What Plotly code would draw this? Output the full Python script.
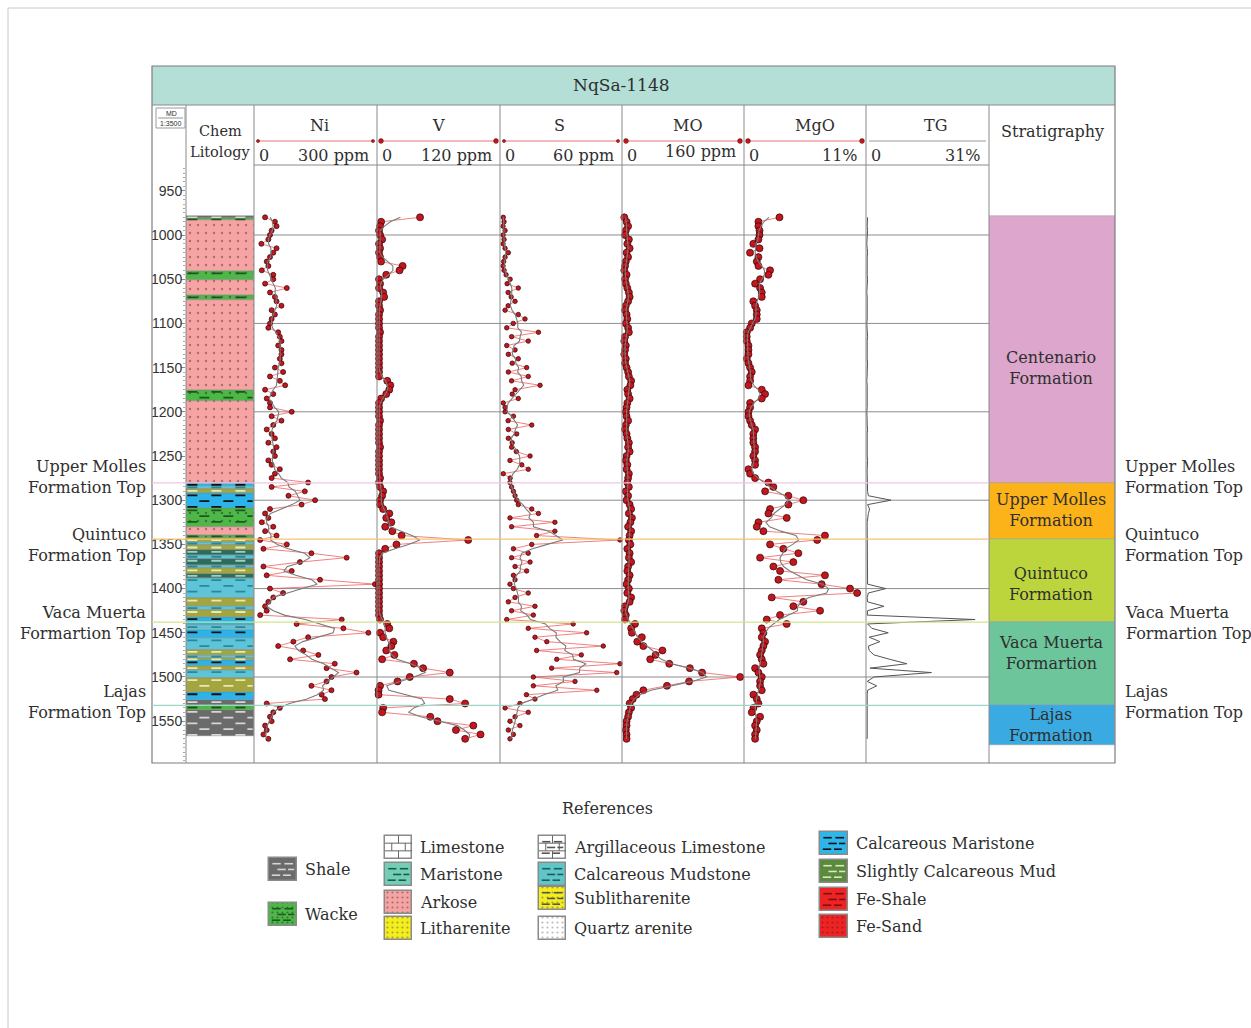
import numpy as np
import plotly.graph_objects as go

W, H = 1251, 1028
SERIF = "DejaVu Serif"
TXT = "#2f2f2f"

# ---------------- geochemical log samples (measured depth, m) ----------------
DEPTH = [980, 985, 990, 995, 1000, 1005, 1010, 1015, 1020, 1025,
         1030, 1035, 1040, 1045, 1050, 1055, 1060, 1065, 1070, 1075,
         1080, 1085, 1090, 1095, 1100, 1105, 1110, 1115, 1120, 1125,
         1130, 1135, 1140, 1145, 1150, 1155, 1160, 1165, 1170, 1175,
         1180, 1185, 1190, 1195, 1200, 1205, 1210, 1215, 1220, 1225,
         1230, 1235, 1240, 1245, 1250, 1255, 1260, 1265, 1270, 1275,
         1280, 1285, 1290, 1295, 1300, 1305, 1310, 1315, 1320, 1325,
         1330, 1335, 1340, 1345, 1350, 1355, 1360, 1365, 1370, 1375,
         1380, 1385, 1390, 1395, 1400, 1405, 1410, 1415, 1420, 1425,
         1430, 1435, 1440, 1445, 1450, 1455, 1460, 1465, 1470, 1475,
         1480, 1485, 1490, 1495, 1500, 1505, 1510, 1515, 1520, 1525,
         1530, 1535, 1540, 1545, 1550, 1555, 1560, 1565, 1570]

NI = [27, 51, 55, 43, 39, 35, 18, 55, 47, 39,
      31, 35, 19, 47, 47, 27, 80, 39, 51, 55,
      67, 43, 51, 43, 39, 35, 59, 63, 67, 59,
      67, 67, 63, 67, 51, 71, 39, 63, 76, 27,
      47, 31, 39, 39, 92, 43, 67, 47, 31, 43,
      51, 35, 55, 47, 51, 35, 43, 63, 51, 43,
      132, 43, 124, 84, 149, 116, 39, 27, 35, 19,
      47, 27, 55, 15, 80, 23, 140, 226, 112, 23,
      92, 31, 161, 295, 39, 71, 47, 35, 27, 31,
      15, 214, 104, 218, 279, 132, 96, 59, 120, 157,
      88, 197, 177, 250, 189, 177, 140, 189, 165, 173,
      31, 63, 47, 39, 43, 27, 31, 23, 35]

V = [42, 4, 3, 2, 3, 5, 2, 3, 2, 3,
     4, 25, 22, 9, 2, 3, 2, 6, 7, 2,
     2, 3, 2, 2, 2, 2, 3, 2, 2, 2,
     2, 2, 2, 2, 2, 2, 2, 10, 13, 12,
     9, 4, 2, 2, 2, 2, 3, 2, 2, 2,
     2, 2, 3, 2, 2, 2, 2, 2, 2, 3,
     2, 3, 6, 5, 3, 3, 6, 12, 9, 14,
     8, 15, 24, 89, 19, 8, 2, 2, 2, 2,
     2, 2, 2, 2, 2, 2, 2, 2, 2, 2,
     2, 3, 10, 12, 3, 6, 16, 14, 9, 17,
     5, 36, 45, 71, 32, 20, 3, 1.5, 1.5, 71,
     86, 6, 5, 52, 59, 94, 77, 101, 86]

S = [1.6, 2.0, 1.5, 2.5, 1.5, 2.0, 1.5, 2.5, 4.1, 2.5,
     1.8, 1.5, 2.0, 3.0, 5.0, 3.5, 9.0, 4.0, 5.5, 7.4,
     4.0, 2.5, 9.0, 12.3, 6.5, 3.3, 18.9, 5.7, 13.9, 3.3,
     7.4, 4.1, 9.0, 6.0, 13.1, 4.1, 13.9, 5.7, 19.7, 7.4,
     6.0, 9.0, 1.6, 2.5, 2.5, 6.6, 4.0, 15.6, 4.1, 8.2,
     4.1, 6.0, 5.7, 8.0, 14.8, 4.9, 10.7, 13.9, 1.6, 5.0,
     4.9, 5.7, 6.6, 7.4, 8.2, 9.0, 15.6, 18.9, 4.9, 27.0,
     5.7, 27.0, 18.0, 59.0, 15.6, 6.6, 13.9, 5.7, 14.8, 7.4,
     13.1, 6.6, 7.4, 4.9, 6.6, 13.9, 7.4, 4.1, 17.2, 5.7,
     16.4, 3.3, 36.0, 13.9, 42.6, 17.2, 23.0, 50.8, 18.0, 40.0,
     27.9, 59.0, 25.4, 57.4, 16.4, 36.9, 16.4, 47.6, 13.0, 17.2,
     9.8, 2.5, 13.9, 7.4, 4.9, 9.8, 4.1, 6.6, 4.9]

MO = [3, 6, 8, 5, 4, 9, 7, 10, 6, 8,
      5, 4, 3, 6, 4, 5, 7, 9, 10, 8,
      5, 4, 6, 7, 5, 8, 9, 4, 3, 5,
      4, 3, 5, 4, 6, 8, 9, 12, 11, 7,
      8, 10, 7, 6, 5, 6, 8, 5, 4, 6,
      7, 9, 8, 10, 6, 5, 7, 6, 9, 8,
      7, 9, 5, 8, 6, 10, 12, 9, 13, 11,
      8, 12, 10, 9, 11, 7, 10, 9, 12, 8,
      7, 10, 8, 6, 9, 7, 12, 10, 4, 3,
      5, 4, 17, 12, 13, 26, 20, 28, 53, 44,
      37, 62, 89, 105, 155, 88, 59, 28, 19, 14,
      10, 12, 9, 8, 6, 6, 5, 6, 6]

MGO = [3.2, 1.3, 1.3, 1.4, 1.4, 1.3, 0.84, 1.4, 0.54, 1.3,
       1.15, 1.3, 2.35, 2.2, 1.45, 1.0, 1.45, 1.6, 1.6, 0.84,
       1.0, 1.15, 1.15, 1.15, 0.7, 0.55, 0.25, 0.25, 0.25, 0.4,
       0.4, 0.4, 0.25, 0.4, 0.55, 0.7, 0.55, 0.55, 0.4, 1.6,
       1.9, 1.6, 0.55, 0.55, 0.4, 0.4, 0.55, 0.7, 1.0, 0.84,
       0.84, 0.84, 1.0, 1.0, 0.84, 1.0, 1.0, 0.4, 0.55, 1.0,
       2.2, 2.65, 1.9, 4.0, 5.35, 4.0, 2.35, 2.2, 3.85, 1.3,
       1.15, 1.75, 7.3, 6.6, 2.35, 3.55, 4.9, 1.45, 4.45, 2.65,
       3.25, 7.3, 3.1, 7.0, 9.56, 10.2, 2.5, 5.35, 4.45, 6.86,
       3.25, 2.05, 3.85, 1.6, 1.75, 1.6, 1.9, 1.75, 1.6, 1.45,
       1.6, 1.75, 1.0, 1.3, 1.6, 1.45, 1.45, 1.6, 0.85, 1.15,
       1.3, 0.85, 0.7, 1.45, 1.15, 1.0, 1.15, 1.0, 1.0]

TG = [0.4, 0.3, 0.3, 0.4, 0.3, 0.3, 0.2, 0.3, 0.4, 0.3,
      0.3, 0.2, 0.3, 0.3, 0.4, 0.3, 0.3, 0.2, 0.3, 0.3,
      0.3, 0.4, 0.3, 0.3, 0.2, 0.3, 0.3, 0.4, 0.3, 0.3,
      0.2, 0.3, 0.3, 0.4, 0.3, 0.3, 0.3, 0.2, 0.3, 0.3,
      0.4, 0.3, 0.3, 0.3, 0.2, 0.3, 0.3, 0.3, 0.4, 0.3,
      0.3, 0.3, 0.2, 0.3, 0.3, 0.4, 0.3, 0.3, 0.3, 0.3,
      0.3, 0.4, 0.4, 0.6, 6.3, 0.4, 0.9, 0.6, 0.4, 0.3,
      0.3, 0.3, 0.3, 0.3, 0.3, 0.3, 0.3, 0.3, 0.3, 0.3,
      0.3, 0.3, 0.3, 0.4, 5.0, 0.6, 0.3, 0.4, 4.5, 0.4,
      0.3, 27.5, 0.4, 1.5, 5.6, 0.8, 3.5, 0.6, 0.8, 2.0,
      6.0, 10.3, 1.0, 16.5, 2.0, 0.3, 2.7, 0.4, 0.3, 0.3,
      0.3, 0.3, 0.3, 0.3, 0.3, 0.3, 0.3, 0.3, 0.3]

for arr in (NI, V, S, MO, MGO, TG):
    assert len(arr) == len(DEPTH)

# ---------------- lithology column ----------------
LITH_TOP = [979, 981, 983.5, 1041, 1051, 1068, 1074, 1175, 1188, 1281,
            1284, 1287, 1292, 1309, 1330, 1339, 1343, 1347, 1351, 1356,
            1362, 1366, 1373, 1377, 1383, 1388, 1411, 1420, 1424, 1432,
            1441, 1447, 1456, 1469, 1475, 1479, 1481, 1488, 1492, 1501,
            1517, 1526, 1532, 1537]
LITH_BASE = LITH_TOP[1:] + [1567]
LITH_TYPE = ["Shale", "Wacke", "Arkose", "Wacke", "Arkose", "Wacke", "Arkose", "Wacke", "Arkose",
             "Calcareous Maristone", "Calcareous Mudstone", "Slightly Calcareous Mud",
             "Calcareous Maristone", "Wacke", "Arkose", "Wacke", "Slightly Calcareous Mud",
             "Calcareous Mudstone", "Slightly Calcareous Mud", "Maristone", "Calcareous Mudstone",
             "Maristone", "Calcareous Mudstone", "Slightly Calcareous Mud", "Maristone",
             "Calcareous Mudstone", "Slightly Calcareous Mud", "Calcareous Mudstone",
             "Slightly Calcareous Mud", "Calcareous Maristone", "Calcareous Mudstone",
             "Calcareous Maristone", "Calcareous Mudstone", "Slightly Calcareous Mud",
             "Calcareous Mudstone", "Slightly Calcareous Mud", "Calcareous Maristone",
             "Slightly Calcareous Mud", "Calcareous Mudstone", "Slightly Calcareous Mud",
             "Calcareous Maristone", "Shale", "Wacke", "Shale"]

# ---------------- stratigraphy ----------------
FORM_NAME = ["Centenario<br>Formation", "Upper Molles<br>Formation", "Quintuco<br>Formation",
             "Vaca Muerta<br>Formartion", "Lajas<br>Formation"]
FORM_TOP = [978, 1280.5, 1344, 1438, 1532]
FORM_BASE = [1280.5, 1344, 1438, 1532, 1577]
FORM_COLOR = ["#dda6cc", "#fcb319", "#bdd53c", "#6dc59c", "#3aabe2"]

TOP_NAME = ["Upper Molles<br>Formation Top", "Quintuco<br>Formation Top",
            "Vaca Muerta<br>Formartion Top", "Lajas<br>Formation Top"]
TOP_DEPTH = [1280.5, 1344, 1438, 1532]
TOP_COLOR = ["#efc6e0", "#f5c56e", "#d2e58a", "#9ad8c6"]

# lithology fill styles
STYLE = {
    "Shale": dict(bg="#6b6b6b", dash="#d6d6d6"),
    "Wacke": dict(bg="#4db848", dash="#1f551f", dots="#1e331e"),
    "Limestone": dict(bg="#ffffff", brick="#666666"),
    "Maristone": dict(bg="#72cfb6", dash="#1d5a4c"),
    "Arkose": dict(bg="#f5a3a3", dots="#5c3a3a"),
    "Litharenite": dict(bg="#f4ee1c", dots="#555555"),
    "Argillaceous Limestone": dict(bg="#ffffff", brick="#666666", dash="#555555"),
    "Calcareous Mudstone": dict(bg="#5fc6c8", dash="#1d5c5c"),
    "Sublitharenite": dict(bg="#f4ee1c", dots="#555555", dash="#555555"),
    "Quartz arenite": dict(bg="#ffffff", dots="#777777"),
    "Calcareous Maristone": dict(bg="#2db6ea", dash="#111111"),
    "Slightly Calcareous Mud": dict(bg="#5b8a3c", dash="#d9e8c2"),
    "Fe-Shale": dict(bg="#ee2424", dash="#7a1010"),
    "Fe-Sand": dict(bg="#ee2424", dots="#6a1010"),
}
# colours used inside the well column
COLUMN_STYLE = {
    "Slightly Calcareous Mud": dict(bg="#a3a63e", dash="#e8eab4"),
    "Maristone": dict(bg="#2d6c5b", dash="#9fd0c0"),
    "Calcareous Mudstone": dict(bg="#5ec4d8", dash="#2a8797"),
    "Calcareous Maristone": dict(bg="#2ab4ea", dash="#111111"),
}

LEGEND_COLS = [
    (269, 28, ["Shale", "Wacke"], [869, 914]),
    (385, 27, ["Limestone", "Maristone", "Arkose", "Litharenite"], [847, 874, 902, 928]),
    (539, 27, ["Argillaceous Limestone", "Calcareous Mudstone", "Sublitharenite", "Quartz arenite"],
     [847, 874, 898, 928]),
    (820, 28, ["Calcareous Maristone", "Slightly Calcareous Mud", "Fe-Shale", "Fe-Sand"],
     [843, 871, 899, 926]),
]

# ---------------- track layout ----------------
TRACKS = [  # name, left px, right px, full scale, scale label, values, marker size, axis, header x
    ("Ni", 254, 377, 300, "300 ppm", NI, 5, "x2", 319),
    ("V", 377, 500, 120, "120 ppm", V, 7, "x3", 438),
    ("S", 500, 622, 60, "60 ppm", S, 4.5, "x4", 559),
    ("MO", 622, 744, 160, "160 ppm", MO, 7, "x5", 688),
    ("MgO", 744, 866, 11, "11%", MGO, 7, "x6", 815),
    ("TG", 866, 989, 31, "31%", TG, 0, "x7", 935),
]
D_RANGE = [1597.3, 920.8]
Y_TOP, Y_BOT = 165, 763


def fx(p):
    return p / W


def fy(p):
    return 1 - p / H


def smooth(v, k=(1, 2, 3, 2, 1)):
    v = np.asarray(v, float)
    k = np.asarray(k, float)
    h = len(k) // 2
    out = np.empty_like(v)
    for i in range(len(v)):
        lo, hi = max(0, i - h), min(len(v), i + h + 1)
        kk = k[h - (i - lo): h + (hi - i)]
        out[i] = np.dot(v[lo:hi], kk) / kk.sum()
    return out


fig = go.Figure()
shapes = []
ann = []


def pline(x0, y0, x1, y1, color="#8c8c8c", width=1, layer="above"):
    shapes.append(dict(type="line", xref="paper", yref="paper", x0=fx(x0), y0=fy(y0),
                       x1=fx(x1), y1=fy(y1), line=dict(color=color, width=width), layer=layer))


def text(x, y, s, size=16, xanchor="center", color=TXT, yref="paper", family=SERIF):
    ann.append(dict(x=fx(x), y=(fy(y) if yref == "paper" else y), xref="paper", yref=yref,
                    text=s, showarrow=False, xanchor=xanchor, yanchor="middle",
                    align=xanchor if xanchor != "center" else "center",
                    font=dict(family=family, size=size, color=color)))


def dash_rows(xs0, xs1, ys, color, width, axis, yaxis, dash):
    xx, yy = [], []
    for y in ys:
        xx += [xs0, xs1, None]
        yy += [y, y, None]
    if xx:
        fig.add_trace(go.Scatter(x=xx, y=yy, mode="lines", xaxis=axis, yaxis=yaxis,
                                 line=dict(color=color, width=width, dash=dash),
                                 hoverinfo="skip"))


# ---------------- lithology column (bars on depth axis) ----------------
for kind in dict.fromkeys(LITH_TYPE):
    st = dict(STYLE[kind])
    st.update(COLUMN_STYLE.get(kind, {}))
    idx = [i for i, t in enumerate(LITH_TYPE) if t == kind]
    tops = [LITH_TOP[i] for i in idx]
    thick = [LITH_BASE[i] - LITH_TOP[i] for i in idx]
    pattern = dict(shape=".", fgcolor=st["dots"], bgcolor=st["bg"], size=8, solidity=0.07) \
        if "dots" in st else None
    fig.add_trace(go.Bar(x=[0.5] * len(idx), y=thick, base=tops, width=1,
                         marker=dict(color=st["bg"], pattern=pattern,
                                     line=dict(color="#7a7a7a", width=0.4)),
                         xaxis="x", yaxis="y", hoverinfo="skip"))
    if "dash" in st:
        rows_a, rows_b = [], []
        for t, b in zip(tops, [LITH_BASE[i] for i in idx]):
            th = b - t
            if th < 5:
                rows = [t + th / 2]
            else:
                rows = list(np.arange(t + 2.5, b - 1.2, 6.5))
            for j, r in enumerate(rows):
                (rows_a if j % 2 == 0 else rows_b).append(r)
        dash_rows(0.02, 0.98, rows_a, st["dash"], 1.8, "x", "y", "10px,14px")
        dash_rows(0.02, 0.98, rows_b, st["dash"], 1.8, "x", "y", "0px,12px,10px,2px")

# ---------------- stratigraphy column ----------------
for name, t, b, c in zip(FORM_NAME, FORM_TOP, FORM_BASE, FORM_COLOR):
    fig.add_trace(go.Bar(x=[0.5], y=[b - t], base=[t], width=1,
                         marker=dict(color=c, line=dict(color="#9a9a9a", width=0.5)),
                         xaxis="x8", yaxis="y", hoverinfo="skip"))
LABEL_DEPTH = [1151, 1311, 1395, 1473, 1554]
for name, d in zip(FORM_NAME, LABEL_DEPTH):
    text(1051, d, name, size=16, yref="y")

# ---------------- geochemical curves ----------------
for name, x0, x1, vmax, unit, vals, msize, ax, hx in TRACKS:
    if name == "TG":
        fig.add_trace(go.Scatter(x=vals, y=DEPTH, mode="lines", xaxis=ax, yaxis="y",
                                 line=dict(color="#555555", width=1), hoverinfo="skip"))
        continue
    fig.add_trace(go.Scatter(x=vals, y=DEPTH, mode="lines", xaxis=ax, yaxis="y",
                             line=dict(color="rgba(235,80,80,0.8)", width=0.9),
                             hoverinfo="skip"))
    fig.add_trace(go.Scatter(x=vals, y=DEPTH, mode="markers", xaxis=ax, yaxis="y",
                             cliponaxis=False,
                             marker=dict(size=msize, color="#c3161e",
                                         line=dict(color="#2b0606", width=0.7)),
                             hoverinfo="skip"))
    fig.add_trace(go.Scatter(x=smooth(vals), y=DEPTH, mode="lines", xaxis=ax, yaxis="y",
                             line=dict(color="#7b7b7b", width=1.1), hoverinfo="skip"))

# ---------------- frame, header and grid ----------------
pline(8, 8, W, 8, "#c8c8c8", 1)
pline(8, 8, 8, H, "#c8c8c8", 1)
shapes.append(dict(type="rect", xref="paper", yref="paper", x0=fx(152), x1=fx(1115),
                   y0=fy(105), y1=fy(66), fillcolor="#b4dfd6", line=dict(width=0), layer="below"))
shapes.append(dict(type="rect", xref="paper", yref="paper", x0=fx(152), x1=fx(1115),
                   y0=fy(763), y1=fy(66), line=dict(color="#7d7d7d", width=1.2)))
pline(152, 105, 1115, 105, "#8a8a8a", 1)
for xv in (186, 254, 377, 500, 622, 744, 866, 989):
    pline(xv, 105, xv, 763, "#8a8a8a", 1)
pline(254, 165, 989, 165, "#8a8a8a", 1)
text(621, 85, "NqSa-1148", size=17)

# depth scale box
shapes.append(dict(type="rect", xref="paper", yref="paper", x0=fx(156), x1=fx(185),
                   y0=fy(128), y1=fy(108), line=dict(color="#999999", width=1)))
pline(158, 118, 183, 118, "#777777", 0.8)
text(171, 113, "MD", size=7, family="Liberation Sans")
text(171, 123.5, "1:3500", size=7, family="Liberation Sans")

text(220, 131, "Chem", size=14.5)
text(220, 152, "Litology", size=14.5)
text(1052, 131, "Stratigraphy", size=16)

for name, x0, x1, vmax, unit, vals, msize, ax, hx in TRACKS:
    text(hx, 125, name, size=16)
    if name == "TG":
        pline(x0 + 3, 141, x1 - 3, 141, "#9a9a9a", 1.2)
    else:
        pline(x0 + 4, 141, x1 - 4, 141, "#f0a0a0", 1.3)
        r = 1.6 if msize < 6 else 2.4
        for cx in (x0 + 4, x1 - 4):
            shapes.append(dict(type="circle", xref="paper", yref="paper",
                               x0=fx(cx - r), x1=fx(cx + r), y0=fy(141 + r), y1=fy(141 - r),
                               fillcolor="#c3161e", line=dict(color="#5a0a0a", width=0.5)))
    text(x0 + 3, 155, "0", size=16, xanchor="left")
    text(x1 - 6, 151 if name == "MO" else 155, unit, size=16, xanchor="right")

# depth grid lines every 100 m across the tracks
for d in range(1000, 1600, 100):
    shapes.append(dict(type="line", xref="paper", yref="y", x0=fx(254), x1=fx(989), y0=d, y1=d,
                       line=dict(color="#8d8d8d", width=1), layer="below"))

# formation tops
for name, d, c in zip(TOP_NAME, TOP_DEPTH, TOP_COLOR):
    shapes.append(dict(type="line", xref="paper", yref="y", x0=fx(152), x1=fx(989), y0=d, y1=d,
                       line=dict(color=c, width=1.3), layer="above"))
TOP_LABEL_DEPTH = [1274, 1351, 1439, 1528]
for name, d in zip(TOP_NAME, TOP_LABEL_DEPTH):
    text(148, d, name, size=16, xanchor="right", yref="y")
    text(1123, d, name, size=16, xanchor="left", yref="y")

# ---------------- references (legend) ----------------
text(607, 808, "References", size=16)
DASH_ROWS = [(0.27, [(0.12, 0.42), (0.55, 0.86)]),
             (0.52, [(0.30, 0.60), (0.68, 0.90)]),
             (0.77, [(0.10, 0.40), (0.50, 0.78)])]
for x0, w, kinds, ycs in LEGEND_COLS:
    h = 23
    for kind, yc in zip(kinds, ycs):
        st = STYLE[kind]
        top = yc - h / 2
        pattern = dict(shape=".", fgcolor=st["dots"], bgcolor=st["bg"], size=5, solidity=0.15) \
            if "dots" in st else None
        fig.add_trace(go.Bar(x=[x0 + w / 2], y=[h], base=[top], width=w, xaxis="x9", yaxis="y2",
                             marker=dict(color=st["bg"], pattern=pattern,
                                         line=dict(color="#8a8a8a", width=1.5)),
                             hoverinfo="skip"))
        if "brick" in st:
            xx, yy = [], []
            for fr in (1 / 3, 2 / 3):
                xx += [x0, x0 + w, None]
                yy += [top + h * fr, top + h * fr, None]
            for fx0, fr0, fr1 in ((0.5, 0, 1 / 3), (0.25, 1 / 3, 2 / 3), (0.75, 1 / 3, 2 / 3),
                                  (0.5, 2 / 3, 1)):
                xx += [x0 + w * fx0, x0 + w * fx0, None]
                yy += [top + h * fr0, top + h * fr1, None]
            fig.add_trace(go.Scatter(x=xx, y=yy, mode="lines", xaxis="x9", yaxis="y2",
                                     line=dict(color=st["brick"], width=1), hoverinfo="skip"))
        if "dash" in st:
            xx, yy = [], []
            for fr, segs in DASH_ROWS:
                for a, b in segs:
                    xx += [x0 + w * a, x0 + w * b, None]
                    yy += [top + h * fr, top + h * fr, None]
            fig.add_trace(go.Scatter(x=xx, y=yy, mode="lines", xaxis="x9", yaxis="y2",
                                     line=dict(color=st["dash"], width=1.6), hoverinfo="skip"))
        text(x0 + w + 6, yc, kind, size=16, xanchor="left")

# ---------------- axes ----------------
layout = dict(
    width=W, height=H, margin=dict(l=0, r=0, t=0, b=0),
    paper_bgcolor="white", plot_bgcolor="rgba(0,0,0,0)",
    showlegend=False, barmode="overlay", bargap=0,
    shapes=shapes, annotations=ann,
)
layout["xaxis"] = dict(domain=[fx(186), fx(254)], range=[0, 1], visible=False, anchor="y",
                       fixedrange=True)
layout["yaxis"] = dict(domain=[fy(Y_BOT), fy(Y_TOP)], range=D_RANGE, anchor="x", side="left",
                       tickmode="array", tickvals=list(range(950, 1600, 50)),
                       ticks="outside", ticklen=4, tickcolor="#8a8a8a", tickwidth=1,
                       ticklabelstandoff=-4,
                       tickfont=dict(family="Liberation Sans", size=14, color="#333333"),
                       minor=dict(tickmode="linear", tick0=0, dtick=5, ticks="outside",
                                  ticklen=2, tickcolor="#aaaaaa"),
                       showgrid=False, zeroline=False, showline=False, fixedrange=True)
for name, x0, x1, vmax, unit, vals, msize, ax, hx in TRACKS:
    layout["xaxis" + ax[1:]] = dict(domain=[fx(x0), fx(x1)], range=[0, vmax], visible=False,
                                    anchor="y", fixedrange=True)
layout["xaxis8"] = dict(domain=[fx(989), fx(1115)], range=[0, 1], visible=False, anchor="y")
layout["xaxis9"] = dict(domain=[0, 1], range=[0, W], visible=False, anchor="y2")
layout["yaxis2"] = dict(domain=[0, 1], range=[H, 0], visible=False, anchor="x9")

fig.update_layout(**layout)
fig.write_html("out.html", config={"displayModeBar": False})
